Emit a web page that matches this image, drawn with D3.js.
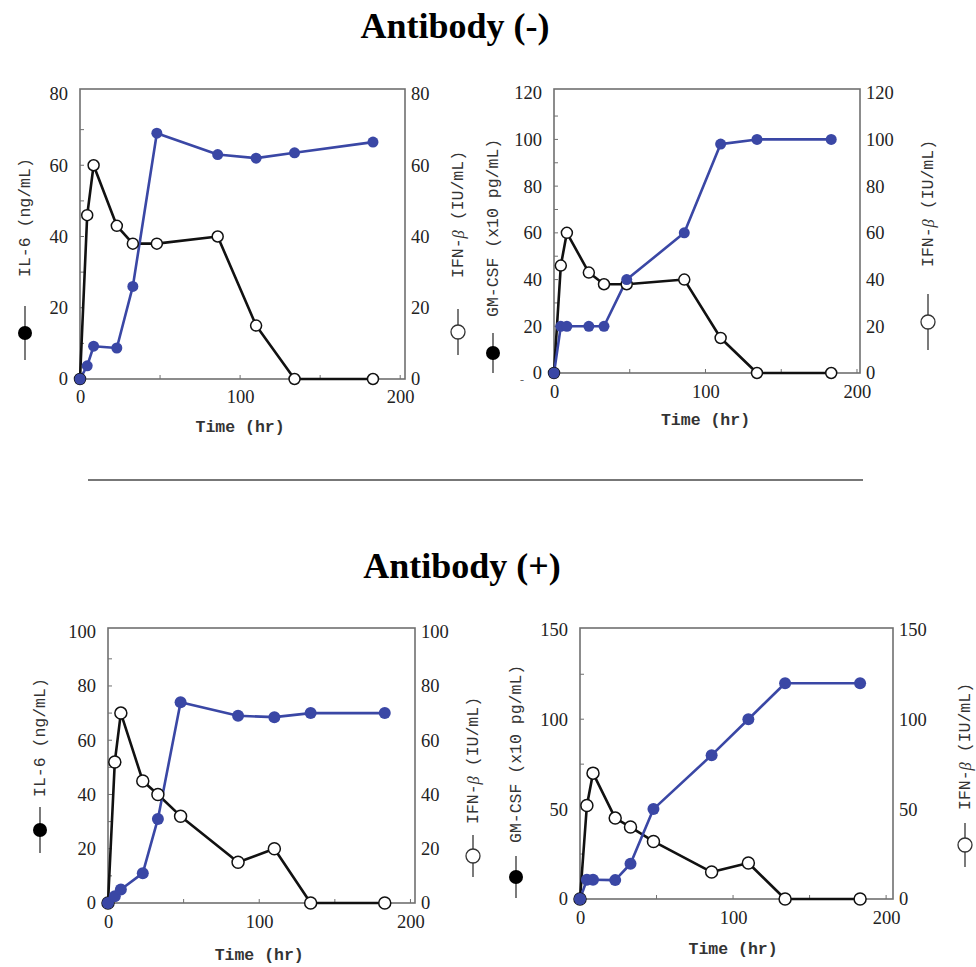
<!DOCTYPE html>
<html>
<head>
<meta charset="utf-8">
<script src="https://cdn.jsdelivr.net/npm/d3@7"></script>
<style>
  html, body { margin: 0; padding: 0; background: #fff; }
  svg { display: block; }
</style>
</head>
<body>
<script>
// ---------- DATA ----------
const timeHr    = [0, 4.5, 8.5, 23, 33, 48, 86, 110, 134, 183];
// Antibody (-)
const il6Neg    = [0, 3.7, 9.2, 8.7, 26, 69, 63, 62, 63.5, 66.5];
const gmcsfNeg  = [0, 20, 20, 20, 20, 40, 60, 98, 100, 100];
const ifnNeg    = [0, 46, 60, 43, 38, 38, 40, 15, 0, 0];
// Antibody (+)
const il6Pos    = [0, 2.5, 5, 11, 31, 74, 69, 68.5, 70, 70];
const gmcsfPos  = [0, 10.7, 10.7, 10.5, 19.6, 50, 80, 100, 120, 120];
const ifnPos    = [0, 52, 70, 45, 40, 32, 15, 20, 0, 0];

const xTicks        = [0, 100, 200];
const yTicksIL6Neg  = [0, 20, 40, 60, 80];
const yTicksGMNeg   = [0, 20, 40, 60, 80, 100, 120];
const yTicksIL6Pos  = [0, 20, 40, 60, 80, 100];
const yTicksGMPos   = [0, 50, 100, 150];

const titles = ["Antibody (-)", "Antibody (+)"];
const xTitle = "Time (hr)";
const leftTitles = ["IL-6 (ng/mL)", "GM-CSF (x10 pg/mL)", "IL-6 (ng/mL)", "GM-CSF (x10 pg/mL)"];
const rightTitleMain = "IFN-";
const rightTitleGreek = "β";
const rightTitleUnit = " (IU/mL)";

// ---------- LAYOUT ----------
const W = 976, H = 967;
const BLUE = "#3a47a5";
const FRAME = "#707070";
const tickFont = "'Liberation Serif', 'Times New Roman', serif";
const monoFont = "'Liberation Mono', 'Courier New', monospace";

const panels = [
  { left: 80,  boxRight: 405, xMaxDom: 203, boxTop: 89,  bottom: 379, yTopPx: 94,  yMax: 80,
    yTicks: yTicksIL6Neg, minor: 10, cyt: il6Neg, ifn: ifnNeg, leftTitle: leftTitles[0],
    lx: 25, lMarker: 333, lHalf: 27, lText: 277,
    rx: 458, rMarker: 332, rHalf: 23, rText: 278, xtY: 426, tickY: 397, mr: 5.5 },
  { left: 554, boxRight: 860, xMaxDom: 202, boxTop: 89,  bottom: 373, yTopPx: 92.7, yMax: 120,
    yTicks: yTicksGMNeg, minor: 10, cyt: gmcsfNeg, ifn: ifnNeg, leftTitle: leftTitles[1],
    lx: 493, lMarker: 353, lHalf: 20, lText: 317,
    rx: 928, rMarker: 322, rHalf: 28, rText: 267, xtY: 419, tickY: 392, mr: 5.5 },
  { left: 108, boxRight: 415, xMaxDom: 203, boxTop: 628, bottom: 903, yTopPx: 631.7, yMax: 100,
    yTicks: yTicksIL6Pos, minor: 10, cyt: il6Pos, ifn: ifnPos, leftTitle: leftTitles[2],
    lx: 40, lMarker: 830, lHalf: 23, lText: 797,
    rx: 473, rMarker: 856, rHalf: 21, rText: 824, xtY: 954, tickY: 922, mr: 6 },
  { left: 580, boxRight: 893, xMaxDom: 204.5, boxTop: 628, bottom: 899, yTopPx: 629.3, yMax: 150,
    yTicks: yTicksGMPos, minor: 25, cyt: gmcsfPos, ifn: ifnPos, leftTitle: leftTitles[3],
    lx: 516, lMarker: 877, lHalf: 21, lText: 843,
    rx: 965, rMarker: 845, rHalf: 22, rText: 810, xtY: 948, tickY: 918, mr: 6 }
];

const svg = d3.select("body").append("svg").attr("width", W).attr("height", H);

// Titles
svg.append("text").attr("x", 455).attr("y", 38).attr("text-anchor", "middle")
  .attr("font-family", tickFont).attr("font-weight", "bold").attr("font-size", 36)
  .text(titles[0]);
svg.append("text").attr("x", 462).attr("y", 578).attr("text-anchor", "middle")
  .attr("font-family", tickFont).attr("font-weight", "bold").attr("font-size", 36)
  .text(titles[1]);

// Separator
svg.append("line").attr("x1", 88).attr("x2", 863).attr("y1", 480).attr("y2", 480)
  .attr("stroke", "#777").attr("stroke-width", 2.2);

// stray dash mark next to the second panel's origin
svg.append("text").attr("x", 522).attr("y", 384).attr("text-anchor", "middle")
  .attr("font-family", tickFont).attr("font-size", 12).attr("fill", "#666").text("-");

panels.forEach(p => {
  const g = svg.append("g");
  const x = d3.scaleLinear().domain([0, p.xMaxDom]).range([p.left, p.boxRight]);
  const y = d3.scaleLinear().domain([0, p.yMax]).range([p.bottom, p.yTopPx]);
  const yR = d3.scaleLinear().domain([0, p.yMax]).range([p.bottom, p.yTopPx]);

  // frame
  g.append("rect").attr("x", p.left).attr("y", p.boxTop)
    .attr("width", p.boxRight - p.left).attr("height", p.bottom - p.boxTop)
    .attr("fill", "none").attr("stroke", FRAME).attr("stroke-width", 1.6);

  // axes (ticks via d3 axis)
  const xAxis = d3.axisBottom(x).tickValues(xTicks).tickSize(0).tickPadding(0).tickFormat(d3.format("d"));
  const xa = g.append("g").attr("transform", `translate(0,${p.bottom})`).call(xAxis);
  xa.select(".domain").remove();
  xa.selectAll("text").attr("y", p.tickY - p.bottom).attr("dy", "0.35em")
    .attr("font-family", tickFont).attr("font-size", 18.5).attr("fill", "#222");

  const yAxisL = d3.axisLeft(y).tickValues(p.yTicks).tickSize(0).tickPadding(12);
  const yl = g.append("g").attr("transform", `translate(${p.left},0)`).call(yAxisL);
  yl.select(".domain").remove();
  yl.selectAll("text").attr("font-family", tickFont).attr("font-size", 18.5).attr("fill", "#222");

  const yAxisR = d3.axisRight(yR).tickValues(p.yTicks).tickSize(0).tickPadding(6);
  const yr = g.append("g").attr("transform", `translate(${p.boxRight},0)`).call(yAxisR);
  yr.select(".domain").remove();
  yr.selectAll("text").attr("font-family", tickFont).attr("font-size", 18.5).attr("fill", "#222");

  // small inward ticks
  const xMinor = d3.range(50, 201, 50);
  g.selectAll(".xm").data(xMinor).join("line")
    .attr("x1", d => x(d)).attr("x2", d => x(d))
    .attr("y1", p.bottom).attr("y2", p.bottom - 4)
    .attr("stroke", FRAME).attr("stroke-width", 1);
  const yMinor = d3.range(p.minor, p.yMax, p.minor);
  g.selectAll(".ym").data(yMinor).join("line")
    .attr("x1", p.left).attr("x2", p.left + 4)
    .attr("y1", d => y(d)).attr("y2", d => y(d))
    .attr("stroke", FRAME).attr("stroke-width", 1);

  // data
  const cytPts = timeHr.map((t, i) => [t, p.cyt[i]]);
  const ifnPts = timeHr.map((t, i) => [t, p.ifn[i]]);

  g.append("path").datum(ifnPts)
    .attr("d", d3.line().x(d => x(d[0])).y(d => yR(d[1])))
    .attr("fill", "none").attr("stroke", "#111").attr("stroke-width", 2.6)
    .attr("stroke-linejoin", "round");
  g.append("path").datum(cytPts)
    .attr("d", d3.line().x(d => x(d[0])).y(d => y(d[1])))
    .attr("fill", "none").attr("stroke", BLUE).attr("stroke-width", 2.6)
    .attr("stroke-linejoin", "round");

  g.selectAll(".ifnpt").data(ifnPts).join("circle")
    .attr("cx", d => x(d[0])).attr("cy", d => yR(d[1])).attr("r", p.mr)
    .attr("fill", "#fff").attr("stroke", "#111").attr("stroke-width", 1.5);
  g.selectAll(".cytpt").data(cytPts).join("circle")
    .attr("cx", d => x(d[0])).attr("cy", d => y(d[1])).attr("r", p.mr)
    .attr("fill", BLUE);

  // x title
  g.append("text").attr("x", (x(0) + x(200)) / 2).attr("y", p.xtY).attr("dy", "0.35em")
    .attr("text-anchor", "middle").attr("font-family", monoFont).attr("font-size", 16.5)
    .attr("font-weight", "bold").attr("fill", "#333").text(xTitle);

  // left title with legend marker (filled)
  const lg = g.append("g").attr("transform", `translate(${p.lx},0)`);
  lg.append("line").attr("x1", 0).attr("x2", 0)
    .attr("y1", p.lMarker - p.lHalf).attr("y2", p.lMarker + p.lHalf)
    .attr("stroke", "#333").attr("stroke-width", 1.3);
  lg.append("circle").attr("cx", 0).attr("cy", p.lMarker).attr("r", 7).attr("fill", "#000");
  lg.append("text").attr("transform", `translate(0,${p.lText}) rotate(-90)`)
    .attr("dominant-baseline", "central").attr("font-family", monoFont)
    .attr("font-size", 16.5).attr("fill", "#333").text(p.leftTitle);

  // right title with legend marker (open)
  const rg = g.append("g").attr("transform", `translate(${p.rx},0)`);
  rg.append("line").attr("x1", 0).attr("x2", 0)
    .attr("y1", p.rMarker - p.rHalf).attr("y2", p.rMarker + p.rHalf)
    .attr("stroke", "#333").attr("stroke-width", 1.3);
  rg.append("circle").attr("cx", 0).attr("cy", p.rMarker).attr("r", 7)
    .attr("fill", "#fff").attr("stroke", "#333").attr("stroke-width", 1.3);
  const rt = rg.append("text").attr("transform", `translate(0,${p.rText}) rotate(-90)`)
    .attr("dominant-baseline", "central").attr("font-family", monoFont)
    .attr("font-size", 16.5).attr("fill", "#333");
  rt.append("tspan").text(rightTitleMain);
  rt.append("tspan").attr("font-family", tickFont).attr("font-style", "italic").text(rightTitleGreek);
  rt.append("tspan").text(rightTitleUnit);
});
</script>
</body>
</html>
